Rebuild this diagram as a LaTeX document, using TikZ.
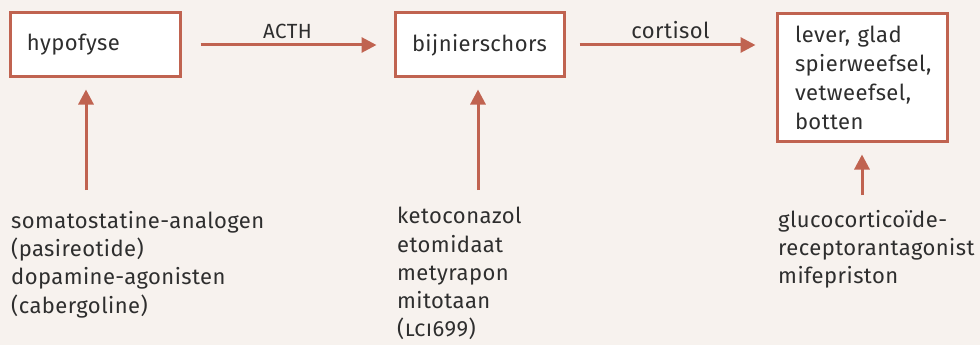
\documentclass[tikz,border=0pt]{standalone}
\usepackage{fontspec}
\setmainfont{Fira Sans}[LetterSpace=2]
\usetikzlibrary{arrows.meta}
\definecolor{bg}{HTML}{F7F2EE}
\definecolor{rust}{HTML}{C06350}
\definecolor{ink}{HTML}{2E2E2E}
\begin{document}
\begin{tikzpicture}[x=1pt,y=-1pt,
  every node/.style={text=ink, font=\fontsize{22}{28.3}\selectfont},
  box/.style={draw=rust, line width=3pt, fill=white, align=left, inner ysep=0pt},
  arr/.style={draw=rust, line width=3pt, -{Triangle[length=15pt,width=15pt]}},
  drug/.style={anchor=north west, align=left, inner sep=0pt}]
\fill[bg] (0,0) rectangle (980,345);
\useasboundingbox (0,0) rectangle (980,345);
\node[box, minimum width=170pt, minimum height=64pt, text width=136pt, inner xsep=17pt] (hyp) at (95,45) {hypofyse};
\node[box, minimum width=169pt, minimum height=64pt, text width=135pt, inner xsep=17pt] (bij) at (479.5,45) {bijnierschors};
\node[box, minimum width=170pt, minimum height=127pt, text width=134pt, inner xsep=18pt, font=\fontsize{22}{29}\selectfont] (lev) at (862,77.5) {lever, glad\\spierweefsel,\\vetweefsel,\\botten};
\draw[arr, shorten <=19pt, shorten >=17pt] (hyp) -- node[above=1pt, font=\fontsize{20.5}{22}\selectfont] (acth) {ACTH} (bij);
\draw[arr, shorten <=14pt, shorten >=20pt] (bij) -- node[above=1pt] (cort) {cortisol} (bij -| lev.west);
\node[drug] (d1) at (11,211) {somatostatine-analogen\\(pasireotide)\\dopamine-agonisten\\(cabergoline)};
\node[drug] (d2) at (397,207) {ketoconazol\\etomidaat\\metyrapon\\mitotaan\\(\textsc{lci}699)};
\node[drug] (d3) at (778,210) {glucocorticoïde-\\receptorantagonist\\mifepriston};
\coordinate (a1) at (86,190);
\coordinate (a2) at (478,190);
\coordinate (a3) at (862,195);
\draw[arr, shorten >=11pt] (a1) -- (a1 |- hyp.south);
\draw[arr, shorten >=11pt] (a2) -- (a2 |- bij.south);
\draw[arr, shorten >=12pt] (a3) -- (a3 |- lev.south);
\end{tikzpicture}
\end{document}
